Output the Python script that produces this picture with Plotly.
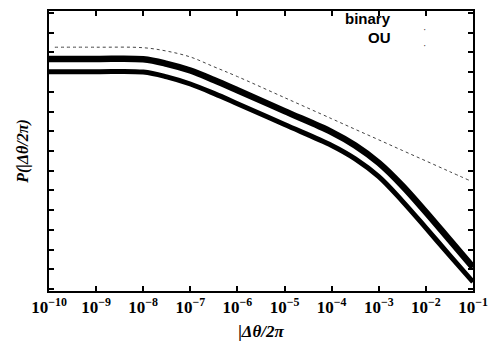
import plotly.graph_objects as go

# x positions (|Δθ|/2π)
x_thick = [1e-10, 1e-9, 1e-8, 3.16e-8, 1e-7, 3.16e-7, 1e-6, 1e-5, 1e-4, 3.16e-4,
           1e-3, 3.16e-3, 1e-2, 3.16e-2, 1e-1]
upper_vals = [0.0682, 0.0682, 0.0668, 0.0513, 0.0347, 0.0200, 0.0110, 0.00324,
              0.000955, 0.000437, 0.000158, 4.17e-5, 8.91e-6, 1.78e-6, 3.55e-7]
lower_vals = [0.0325, 0.0325, 0.0318, 0.0240, 0.0158, 0.00912, 0.00501, 0.00148,
              0.000437, 0.000200, 7.08e-5, 1.70e-5, 3.55e-6, 7.24e-7, 1.51e-7]

x_dot = [1.33e-10, 1e-9, 1e-8, 3.16e-8, 1e-7, 3.16e-7, 1e-6, 1e-5, 1e-4, 3.16e-4,
         1e-3, 3.16e-3, 1e-2, 3.16e-2, 8.3e-2]
dot_vals = [0.1355, 0.1355, 0.1315, 0.1079, 0.0766, 0.0433, 0.0244, 0.00713,
            0.00208, 0.00112, 0.000607, 0.000327, 0.000177, 9.55e-5, 5.71e-5]

x_tickvals = [1e-10, 1e-9, 1e-8, 1e-7, 1e-6, 1e-5, 1e-4, 1e-3, 1e-2, 1e-1]
x_ticktext = ["<b>10<sup>−10</sup></b>", "<b>10<sup>−9</sup></b>", "<b>10<sup>−8</sup></b>",
              "<b>10<sup>−7</sup></b>", "<b>10<sup>−6</sup></b>", "<b>10<sup>−5</sup></b>",
              "<b>10<sup>−4</sup></b>", "<b>10<sup>−3</sup></b>", "<b>10<sup>−2</sup></b>",
              "<b>10<sup>−1</sup></b>"]
y_tickvals = [10 ** (-k / 2) for k in range(0, 15)]

legend_labels = ["binary", "OU"]

serif = "Liberation Serif"

fig = go.Figure()
fig.add_trace(go.Scatter(x=x_dot, y=dot_vals, mode="lines",
                         line=dict(color="#444", width=1, dash="dot", shape="spline", smoothing=1.0),
                         showlegend=False))
fig.add_trace(go.Scatter(x=x_thick, y=upper_vals, mode="lines",
                         line=dict(color="black", width=6.5, shape="spline", smoothing=1.0),
                         showlegend=False))
fig.add_trace(go.Scatter(x=x_thick, y=lower_vals, mode="lines",
                         line=dict(color="black", width=5, shape="spline", smoothing=1.0),
                         showlegend=False))

fig.update_layout(
    width=497, height=347,
    margin=dict(l=49, r=13, t=9, b=52),
    plot_bgcolor="white", paper_bgcolor="white",
    font=dict(family=serif, color="black"),
    xaxis=dict(type="log", range=[-10, -1], tickvals=x_tickvals, ticktext=x_ticktext,
               ticks="inside", ticklen=5, tickwidth=1.5, tickcolor="black",
               showline=True, linecolor="black", linewidth=2, mirror="ticks",
               showgrid=False, zeroline=False, ticklabeloverflow="allow",
               tickfont=dict(family=serif, size=17, color="black"),
               title=dict(text="<b><i>|Δθ/2π</i></b>", font=dict(family=serif, size=17), standoff=9)),
    yaxis=dict(type="log", range=[-7.05, 0.05], tickvals=y_tickvals, showticklabels=False,
               ticks="inside", ticklen=5, tickwidth=1.5, tickcolor="black",
               showline=True, linecolor="black", linewidth=2, mirror="ticks",
               showgrid=False, zeroline=False,
               title=dict(text="<b><i>P(|Δθ/2π)</i></b>", font=dict(family=serif, size=16), standoff=14)),
)

for i, lab in enumerate(legend_labels):
    fig.add_annotation(x=0.812, y=0.972 - i * 0.068, xref="paper", yref="paper", xanchor="right",
                       yanchor="middle", text="<b>" + lab + "</b>", showarrow=False,
                       font=dict(family="Liberation Sans", size=15, color="black"))
    fig.add_annotation(x=0.893, y=0.96 - i * 0.055, xref="paper", yref="paper", text="·",
                       showarrow=False, font=dict(size=10, color="#333"))

fig.write_html("out.html")
